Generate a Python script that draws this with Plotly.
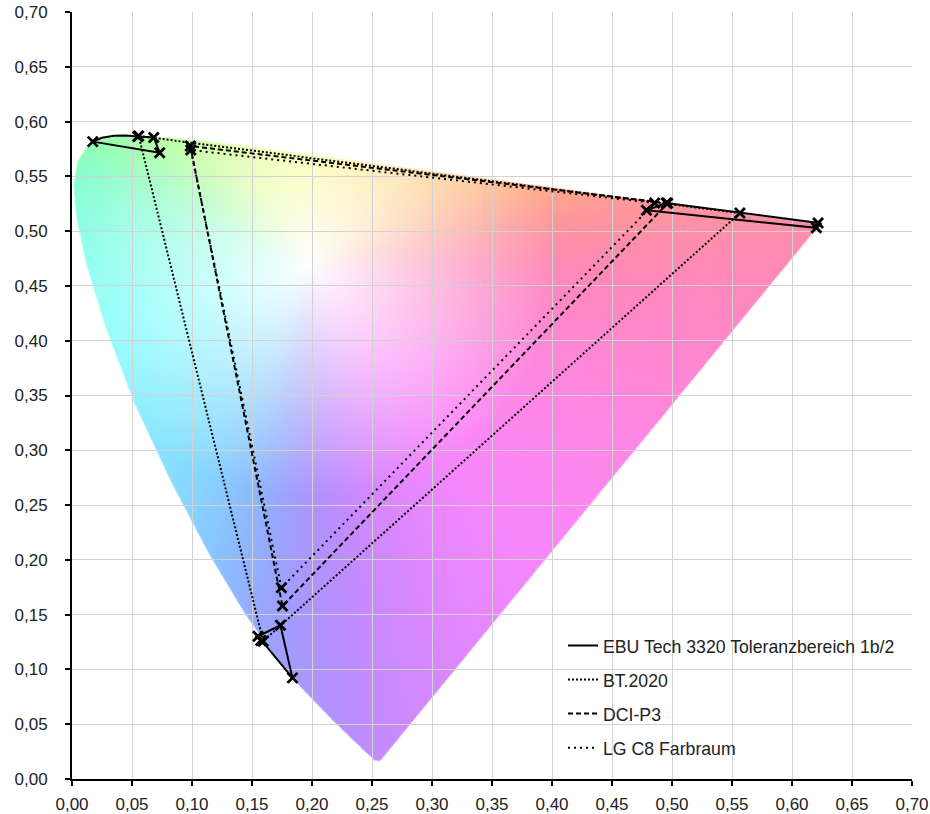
import base64, struct, zlib
import numpy as np
import plotly.graph_objects as go

# ---------------- data (CIE 1976 u'v') ----------------
# spectral locus (380 ... 700 nm)
locus_u = [0.2568, 0.2522, 0.2347, 0.2161, 0.1877, 0.1690, 0.1441, 0.1147, 0.0828, 0.0521,
           0.0282, 0.0119, 0.0035, 0.0014, 0.0046, 0.0123, 0.0231, 0.0360, 0.0501, 0.0792,
           0.1127, 0.1531, 0.2026, 0.2623, 0.3315, 0.4035, 0.4692, 0.5203, 0.5565, 0.5830,
           0.6005, 0.6234]
locus_v = [0.0166, 0.0169, 0.0350, 0.0549, 0.0871, 0.1119, 0.1510, 0.2044, 0.2708, 0.3427,
           0.4117, 0.4698, 0.5131, 0.5432, 0.5638, 0.5770, 0.5837, 0.5861, 0.5868, 0.5856,
           0.5821, 0.5766, 0.5694, 0.5604, 0.5501, 0.5393, 0.5296, 0.5219, 0.5165, 0.5125,
           0.5099, 0.5065]
white_u, white_v = 0.1978, 0.4683  # D65

# EBU Tech 3320 tolerance regions (green with curved top edge, blue, red)
ebu_green_u = [0.0173, 0.0250, 0.0350, 0.0450, 0.0548, 0.0681, 0.0731, 0.0173]
ebu_green_v = [0.5817, 0.5852, 0.5870, 0.5873, 0.5864, 0.5855, 0.5716, 0.5817]
ebu_green_corner_u = [0.0173, 0.0548, 0.0681, 0.0731]
ebu_green_corner_v = [0.5817, 0.5864, 0.5855, 0.5716]
ebu_blue_u = [0.1550, 0.1737, 0.1837, 0.1573, 0.1550]
ebu_blue_v = [0.1303, 0.1403, 0.0923, 0.1264, 0.1303]
ebu_red_u = [0.4787, 0.4953, 0.6217, 0.6203, 0.4787]
ebu_red_v = [0.5190, 0.5257, 0.5075, 0.5030, 0.5190]

# primaries R, G, B
bt2020_u = [0.5566, 0.0556, 0.1593]
bt2020_v = [0.5165, 0.5868, 0.1258]
dcip3_u = [0.4964, 0.0986, 0.1754]
dcip3_v = [0.5255, 0.5777, 0.1579]
lgc8_u = [0.4856, 0.0990, 0.1745]
lgc8_v = [0.5257, 0.5740, 0.1745]

ticks = [round(0.05 * i, 2) for i in range(15)]

names = ["EBU Tech 3320 Toleranzbereich 1b/2", "BT.2020", "DCI-P3", "LG C8 Farbraum"]

# ---------------- background chromaticity fill ----------------
def closed(a):
    return list(a) + [a[0]]

def inside(px, py, poly_x, poly_y):
    res = np.zeros(px.shape, dtype=bool)
    n = len(poly_x)
    for i in range(n):
        x1, y1 = poly_x[i], poly_y[i]
        x2, y2 = poly_x[(i + 1) % n], poly_y[(i + 1) % n]
        cond = (y1 > py) != (y2 > py)
        with np.errstate(divide="ignore", invalid="ignore"):
            xc = (x2 - x1) * (py - y1) / (y2 - y1 + 1e-12) + x1
        res ^= cond & (px < xc)
    return res

W = H = 700
SS = 2
ext = 0.7
uu = (np.arange(W * SS) + 0.5) / (W * SS) * ext
vv = ext - (np.arange(H * SS) + 0.5) / (H * SS) * ext
UU, VV = np.meshgrid(uu, vv)
mask = inside(UU, VV, locus_u, locus_v).astype(float)
alpha = mask.reshape(H, SS, W, SS).mean(axis=(1, 3))

u1 = (np.arange(W) + 0.5) / W * ext
v1 = ext - (np.arange(H) + 0.5) / H * ext
U, V = np.meshgrid(u1, v1)

# saturated sRGB hue for each direction from the white point, smoothed over angle
NA = 720
ang = np.linspace(-np.pi, np.pi, NA, endpoint=False)
pu = white_u + 0.05 * np.cos(ang)
pv = white_v + 0.05 * np.sin(ang)
den = 6 * pu - 16 * pv + 12
xx = 9 * pu / den
yy = 4 * pv / den
X = xx / yy
Z = (1 - xx - yy) / yy
M = np.array([[3.2406, -1.5372, -0.4986], [-0.9689, 1.8758, 0.0415], [0.0557, -0.2040, 1.0570]])
lin = np.stack([M[k, 0] * X + M[k, 1] + M[k, 2] * Z for k in range(3)], axis=-1)
lin -= lin.min(axis=-1, keepdims=True)
lin /= lin.max(axis=-1, keepdims=True)
hue_a = np.where(lin <= 0.0031308, 12.92 * lin, 1.055 * np.power(lin, 1 / 2.4) - 0.055)
sig = 10.0 / 360 * NA
kern = np.exp(-0.5 * ((np.arange(NA) - NA // 2) / sig) ** 2)
kern /= kern.sum()
hue_s = np.stack([np.real(np.fft.ifft(np.fft.fft(hue_a[:, c]) * np.fft.fft(np.fft.ifftshift(kern))))
                  for c in range(3)], axis=-1)

# slight hue warp: green reaches a little further round towards the left edge
pix_deg = np.degrees(np.arctan2(V - white_v, U - white_u)) % 360
warp_in = [0, 60, 142, 200, 266, 360]
warp_out = [0, 60, 128, 192, 266, 360]
look = np.radians(np.interp(pix_deg, warp_in, warp_out))
look = (look + np.pi) % (2 * np.pi) - np.pi
angx = np.concatenate([ang - 2 * np.pi, ang, ang + 2 * np.pi])
hue = np.stack([np.interp(look, angx, np.tile(hue_s[:, c], 3)) for c in range(3)], axis=-1)

# saturation grows with distance from the white point
r = np.hypot(U - white_u, V - white_v)
t = np.clip(r / 0.21, 0, 1) ** 0.9
k = 0.47
mix = (k * t)[..., None]
col = 1 - mix * (1 - hue)
img = np.dstack([np.clip(col * 255, 0, 255), alpha * 255]).astype(np.uint8)


def png_uri(a):
    h, w, _ = a.shape
    raw = b"".join(b"\x00" + a[i].tobytes() for i in range(h))

    def chunk(tag, data):
        c = struct.pack(">I", len(data)) + tag + data
        return c + struct.pack(">I", zlib.crc32(tag + data) & 0xFFFFFFFF)

    png = (b"\x89PNG\r\n\x1a\n" + chunk(b"IHDR", struct.pack(">IIBBBBB", w, h, 8, 6, 0, 0, 0))
           + chunk(b"IDAT", zlib.compress(raw, 9)) + chunk(b"IEND", b""))
    return "data:image/png;base64," + base64.b64encode(png).decode()

# ---------------- figure ----------------
fig = go.Figure()

line_w = 2
mk = dict(symbol="x-thin", size=10, line=dict(width=2.8, color="black"), color="black")

ebu_u = ebu_green_u + [None] + ebu_blue_u + [None] + ebu_red_u
ebu_v = ebu_green_v + [None] + ebu_blue_v + [None] + ebu_red_v
fig.add_trace(go.Scatter(x=ebu_u, y=ebu_v, mode="lines", name=names[0], legendgroup="a",
                         line=dict(color="black", width=line_w)))
fig.add_trace(go.Scatter(x=closed(bt2020_u), y=closed(bt2020_v), mode="lines", name=names[1],
                         legendgroup="b", line=dict(color="black", width=line_w, dash="2px,2px")))
fig.add_trace(go.Scatter(x=closed(dcip3_u), y=closed(dcip3_v), mode="lines", name=names[2],
                         legendgroup="c", line=dict(color="black", width=line_w, dash="5px,3px")))
fig.add_trace(go.Scatter(x=closed(lgc8_u), y=closed(lgc8_v), mode="lines", name=names[3],
                         legendgroup="d", line=dict(color="black", width=line_w, dash="2px,4px")))

mu = ebu_green_corner_u + ebu_blue_u[:-1] + ebu_red_u[:-1] + bt2020_u + dcip3_u + lgc8_u
mv = ebu_green_corner_v + ebu_blue_v[:-1] + ebu_red_v[:-1] + bt2020_v + dcip3_v + lgc8_v
fig.add_trace(go.Scatter(x=mu, y=mv, mode="markers", marker=mk, showlegend=False, hoverinfo="skip"))

font = "Liberation Sans, Arial, Helvetica, sans-serif"
axis = dict(range=[0, 0.7], tickvals=ticks, tickformat=".2f", showgrid=True, gridcolor="#d2d2d2",
            gridwidth=1, zeroline=False, showline=True, linecolor="black", linewidth=2,
            ticks="outside", ticklen=5, tickwidth=1.5, tickcolor="black", automargin=False,
            ticklabeloverflow="allow", tickfont=dict(family=font, size=17, color="#222"))

fig.update_layout(
    width=930, height=814,
    margin=dict(l=72, r=18, t=12, b=35),
    paper_bgcolor="white", plot_bgcolor="white",
    separators=", ",
    xaxis=dict(axis, ticklabelstandoff=4),
    yaxis=dict(axis, ticklabelstandoff=14),
    font=dict(family=font, color="#222"),
    legend=dict(x=0.5845, xanchor="left", y=0.1974, yanchor="top", bgcolor="rgba(0,0,0,0)",
                font=dict(family=font, size=17.7, color="#222"), tracegroupgap=8,
                itemwidth=30),
    images=[dict(source=png_uri(img), xref="x", yref="y", x=0, y=ext, sizex=ext, sizey=ext,
                 sizing="stretch", layer="below", xanchor="left", yanchor="top")],
)

# remove the default 8 px page margin so the figure fills the window exactly
fig.write_html("out.html", config={"displayModeBar": False},
               post_script="document.body.style.margin='0';")
